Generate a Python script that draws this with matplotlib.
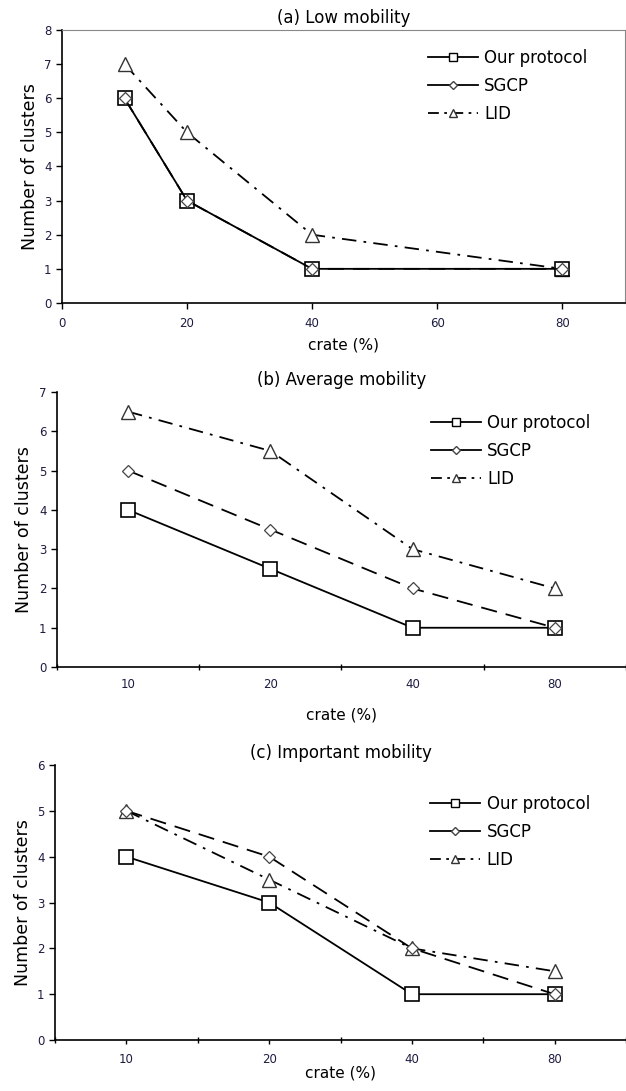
"""Number of clusters vs crate for three mobility levels."""
import matplotlib
matplotlib.use("Agg")
import matplotlib.pyplot as plt
from matplotlib.lines import Line2D
import numpy as np

crate = [10, 20, 40, 80]
crate_labels = ["10", "20", "40", "80"]

low_ours = [6, 3, 1, 1]
low_sgcp = [6, 3, 1, 1]
low_lid = [7, 5, 2, 1]

avg_ours = [4, 2.5, 1, 1]
avg_sgcp = [5, 3.5, 2, 1]
avg_lid = [6.5, 5.5, 3, 2]

imp_ours = [4, 3, 1, 1]
imp_sgcp = [5, 4, 2, 1]
imp_lid = [5, 3.5, 2, 1.5]

plt.rcParams["font.family"] = ["DejaVu Sans"]

TICK_COLOR = "#1c1c40"
LID_DASH = (0, (8, 4, 1.5, 4))
SGCP_DASH = (0, (9, 5))


def draw_series(ax, x, ours, sgcp, lid):
    ax.plot(x, lid, color="black", linestyle=LID_DASH, linewidth=1.3,
            marker="^", markersize=10, markerfacecolor="white",
            markeredgecolor="#333333", markeredgewidth=1.0, zorder=2)
    ax.plot(x, ours, color="black", linestyle="-", linewidth=1.3,
            marker="s", markersize=10, markerfacecolor="white",
            markeredgecolor="black", markeredgewidth=1.2, zorder=3)
    ax.plot(x, sgcp, color="black", linestyle=SGCP_DASH, linewidth=1.3,
            marker="D", markersize=6, markerfacecolor="white",
            markeredgecolor="#444444", markeredgewidth=0.9, zorder=4)


def legend_handles():
    # the original legend draws SGCP with a solid stroke
    kw = dict(color="black", linewidth=1.3, markerfacecolor="white")
    return [
        Line2D([], [], linestyle="-", marker="s", markersize=6,
               markeredgecolor="black", **kw),
        Line2D([], [], linestyle="-", marker="D", markersize=4,
               markeredgecolor="#444444", **kw),
        Line2D([], [], linestyle=(0, (6, 3, 1.5, 3)), marker="^", markersize=6,
               markeredgecolor="#333333", **kw),
    ]


def style_axes(ax, title, anchor):
    ax.set_title(title, fontsize=12, pad=5)
    ax.set_ylabel("Number of clusters", fontsize=12.5, labelpad=4)
    ax.set_xlabel("crate (%)", fontsize=11)
    ax.tick_params(axis="both", labelsize=8.5, colors="black", labelcolor=TICK_COLOR,
                   length=4, width=1)
    ax.spines["left"].set_linewidth(1.2)
    ax.spines["bottom"].set_linewidth(1.2)
    ax.legend(legend_handles(), ["Our protocol", "SGCP", "LID"],
              loc="upper left", bbox_to_anchor=anchor, frameon=False,
              fontsize=12, handlelength=3.0, labelspacing=0.6,
              handletextpad=0.4, borderaxespad=0)


fig = plt.figure(figsize=(6.26, 10.91), dpi=100)

# (a) Low mobility: numeric x axis
ax_a = fig.add_axes([0.099, 0.7223, 0.899, 0.2502])
draw_series(ax_a, crate, low_ours, low_sgcp, low_lid)
ax_a.set_xlim(0, 90)
ax_a.set_ylim(0, 8)
ax_a.set_xticks([0, 20, 40, 60, 80])
ax_a.set_yticks(range(0, 9))
ax_a.spines["top"].set_color("#888888")
ax_a.spines["right"].set_color("#888888")
style_axes(ax_a, "(a) Low mobility", (0.638, 0.955))
ax_a.tick_params(axis="x", pad=6)
ax_a.xaxis.set_label_coords(0.5, -0.125)

# (b) Average mobility: categorical x axis
pos = np.arange(len(crate))
ax_b = fig.add_axes([0.091, 0.3886, 0.909, 0.2521])
draw_series(ax_b, pos, avg_ours, avg_sgcp, avg_lid)
ax_b.set_xlim(-0.5, 3.5)
ax_b.set_ylim(0, 7)
ax_b.set_yticks(range(0, 8))
ax_b.set_xticks(pos)
ax_b.set_xticklabels(crate_labels)
ax_b.set_xticks(np.arange(-0.5, 4.0, 1.0), minor=True)
ax_b.tick_params(axis="x", which="minor", length=5, width=1, direction="inout")
ax_b.spines["top"].set_visible(False)
ax_b.spines["right"].set_visible(False)
style_axes(ax_b, "(b) Average mobility", (0.645, 0.945))
ax_b.tick_params(axis="x", which="major", length=0, pad=8)
ax_b.xaxis.labelpad = 12

# (c) Important mobility: categorical x axis
ax_c = fig.add_axes([0.088, 0.0467, 0.912, 0.2521])
draw_series(ax_c, pos, imp_ours, imp_sgcp, imp_lid)
ax_c.set_xlim(-0.5, 3.5)
ax_c.set_ylim(0, 6)
ax_c.set_yticks(range(0, 7))
ax_c.set_xticks(pos)
ax_c.set_xticklabels(crate_labels)
ax_c.set_xticks(np.arange(-0.5, 4.0, 1.0), minor=True)
ax_c.tick_params(axis="x", which="minor", length=5, width=1, direction="inout")
ax_c.spines["top"].set_visible(False)
ax_c.spines["right"].set_visible(False)
style_axes(ax_c, "(c) Important mobility", (0.645, 0.915))
ax_c.tick_params(axis="x", which="major", length=3, pad=6)
ax_c.xaxis.labelpad = 0

fig.savefig("out.png", dpi=100)
